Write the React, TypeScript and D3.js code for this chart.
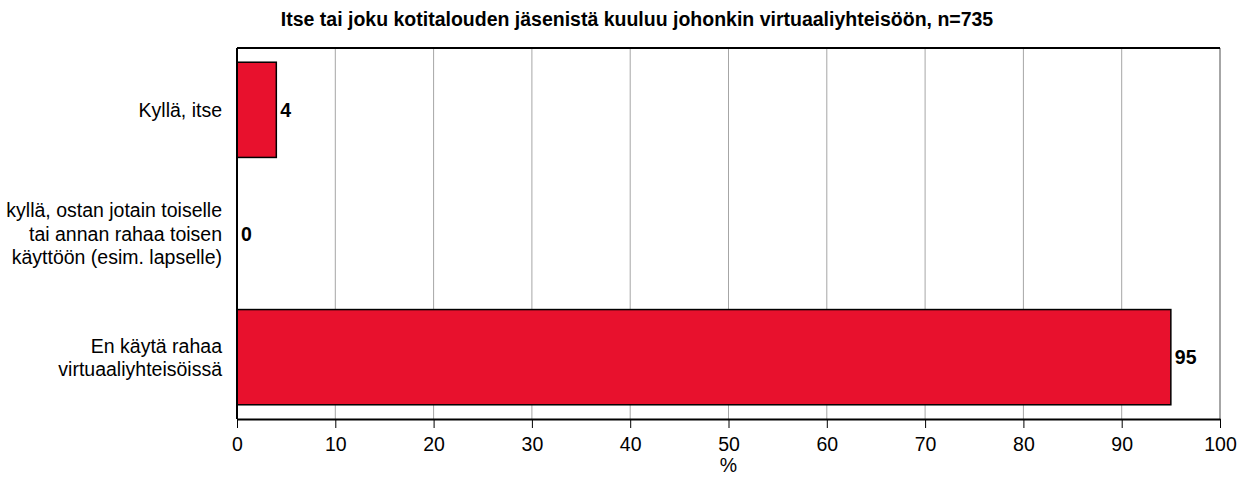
import { useEffect, useRef } from 'react';
import * as d3 from 'd3';

const title = 'Itse tai joku kotitalouden jäsenistä kuuluu johonkin virtuaaliyhteisöön, n=735';
// category labels, lines split as in the original
const categories = [
  ['Kyllä, itse'],
  ['kyllä, ostan jotain toiselle', 'tai annan rahaa toisen', 'käyttöön (esim. lapselle)'],
  ['En käytä rahaa', 'virtuaaliyhteisöissä'],
];
const values = [4, 0, 95];
const xTicks = [0, 10, 20, 30, 40, 50, 60, 70, 80, 90, 100];
const xLabel = '%';

const FONT = '"Liberation Sans", Arial, sans-serif';

const App = () => {
  const svgRef = useRef<SVGSVGElement>(null);

  useEffect(() => {
    const width = 1242;
    const height = 477;
    const margin = { top: 48, right: 22, bottom: 58, left: 237 };

    const svg = d3.select(svgRef.current)
      .attr('width', width)
      .attr('height', height);
    svg.selectAll('*').remove();

    const keys = categories.map((c, i) => String(i));

    const x = d3.scaleLinear()
      .domain([0, 100])
      .range([margin.left, width - margin.right]);

    const y = d3.scaleBand()
      .domain(keys)
      .range([margin.top, height - margin.bottom])
      .paddingInner(0.23)
      .paddingOuter(0.115);

    const top = margin.top;
    const bottom = height - margin.bottom;

    // title
    svg.append('text')
      .attr('x', 637)
      .attr('y', 26)
      .attr('text-anchor', 'middle')
      .attr('font-family', FONT)
      .attr('font-weight', 'bold')
      .attr('font-size', 19.5)
      .attr('fill', '#000')
      .text(title);

    // vertical grid
    svg.append('g')
      .selectAll('line')
      .data(xTicks.filter(t => t > 0))
      .enter().append('line')
      .attr('x1', d => x(d))
      .attr('x2', d => x(d))
      .attr('y1', top)
      .attr('y2', bottom)
      .attr('stroke', '#a6a6a6')
      .attr('stroke-width', d => d === 100 ? 2 : 1);

    // top border
    svg.append('line')
      .attr('x1', x(0)).attr('x2', x(100))
      .attr('y1', top).attr('y2', top)
      .attr('stroke', '#000').attr('stroke-width', 2);

    // bars
    svg.append('g')
      .selectAll('rect')
      .data(values)
      .enter().append('rect')
      .attr('x', x(0))
      .attr('y', (d, i) => y(keys[i]))
      .attr('width', d => x(d) - x(0))
      .attr('height', y.bandwidth())
      .attr('fill', '#e8112d')
      .attr('stroke', '#000')
      .attr('stroke-width', 1.5);

    // value labels
    svg.append('g')
      .selectAll('text')
      .data(values)
      .enter().append('text')
      .attr('x', d => x(d) + 4)
      .attr('y', (d, i) => y(keys[i]) + y.bandwidth() / 2)
      .attr('dy', '0.36em')
      .attr('font-family', FONT)
      .attr('font-weight', 'bold')
      .attr('font-size', 19.5)
      .attr('fill', '#000')
      .text(d => d);

    // left axis line
    svg.append('line')
      .attr('x1', x(0)).attr('x2', x(0))
      .attr('y1', top).attr('y2', bottom)
      .attr('stroke', '#000').attr('stroke-width', 2);

    // category labels
    const lineH = 23.3;
    categories.forEach((lines, i) => {
      const cy = y(keys[i]) + y.bandwidth() / 2;
      const t = svg.append('text')
        .attr('text-anchor', 'end')
        .attr('font-family', FONT)
        .attr('font-size', 19.5)
        .attr('fill', '#000');
      lines.forEach((ln, j) => {
        t.append('tspan')
          .attr('x', 222)
          .attr('y', cy + (j - (lines.length - 1) / 2) * lineH + 7)
          .text(ln);
      });
    });

    // bottom axis
    const xAxis = svg.append('g')
      .attr('transform', `translate(0,${bottom})`)
      .call(d3.axisBottom(x).tickValues(xTicks).tickSize(9).tickPadding(9).tickSizeOuter(0));
    xAxis.select('.domain').attr('stroke', '#000').attr('stroke-width', 2);
    xAxis.selectAll('.tick line').attr('stroke', '#000').attr('stroke-width', 1);
    xAxis.selectAll('.tick text')
      .attr('font-family', FONT)
      .attr('font-size', 19.5)
      .attr('fill', '#000');

    // axis title
    svg.append('text')
      .attr('x', (x(0) + x(100)) / 2)
      .attr('y', 472)
      .attr('text-anchor', 'middle')
      .attr('font-family', FONT)
      .attr('font-size', 19.5)
      .attr('fill', '#000')
      .text(xLabel);
  }, []);

  return <svg ref={svgRef} style={{ position: 'absolute', left: 0, top: 0, background: '#fff' }}></svg>;
};

export default App;
